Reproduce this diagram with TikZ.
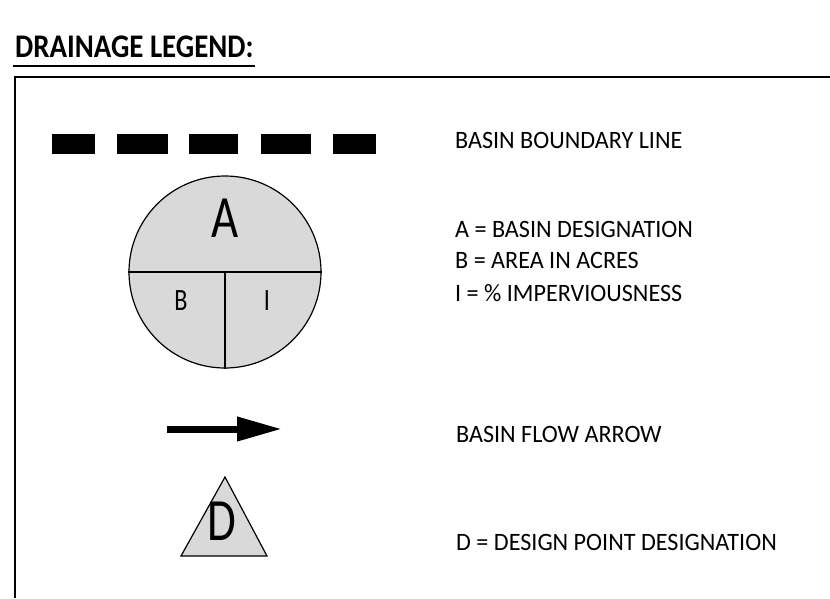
\documentclass[tikz,border=0pt]{standalone}
\usepackage{fontspec}
\setmainfont{Carlito}
\newfontfamily\bodyfont[FakeStretch=0.965]{Carlito}
\newfontfamily\titlefont[FakeStretch=0.875]{Carlito}
\newfontfamily\symbolfont[FakeStretch=0.78]{Carlito}
\usetikzlibrary{arrows.meta}
\definecolor{basingray}{HTML}{D9D9D9}
\begin{document}
\begin{tikzpicture}[x=1pt,y=-1pt,
  legendtext/.style={anchor=base west,inner sep=0pt,font=\bodyfont\fontsize{25}{30}\selectfont},
  dashbox/.style={fill=black},
  divider/.style={line width=2pt},
  biglabel/.style={inner sep=0pt,font=\symbolfont\fontsize{60}{62}\selectfont},
  smalllabel/.style={inner sep=0pt,font=\symbolfont\fontsize{31}{34}\selectfont}]
\useasboundingbox (0,0) rectangle (830,598);

% title with underline
\node[anchor=base west,inner sep=0pt,font=\titlefont\bfseries\fontsize{33}{40}\selectfont] (title) at (15,57) {DRAINAGE LEGEND:};
\draw[line width=2pt] (13,66) -- (255,66);

% frame
\draw[line width=2pt] (15,598) -- (15,77) -- (830,77);

% basin boundary line
\fill[dashbox] (52,134) rectangle (95,154);
\fill[dashbox] (117,134) rectangle (168,154);
\fill[dashbox] (189,134) rectangle (238,154);
\fill[dashbox] (261,134) rectangle (311,154);
\fill[dashbox] (333,134) rectangle (376,154);
\node[legendtext] (lbound) at (455,148) {BASIN BOUNDARY LINE};

% basin designation circle
\node[circle,draw,line width=1.2pt,fill=basingray,minimum size=192pt,inner sep=0pt] (basin) at (225,272) {};
\draw[divider] (basin.west) -- (basin.east);
\draw[divider] (basin.center) -- (basin.south);
\node[biglabel] (la) at (225,218) {A};
\node[smalllabel] (lb) at (181,301) {B};
\node[smalllabel] (li) at (267,301) {I};
\node[legendtext] (ta) at (455,237) {A = BASIN DESIGNATION};
\node[legendtext] (tb) at (455,268) {B = AREA IN ACRES};
\node[legendtext] (ti) at (455,301) {I = \% IMPERVIOUSNESS};

% basin flow arrow
\coordinate (ftail) at (167,429);
\coordinate (fhead) at (282,429);
\draw[line width=7pt,-{Triangle[length=45pt,width=23pt]}] (ftail) -- (fhead);
\node[legendtext] (tflow) at (456,442) {BASIN FLOW ARROW};

% design point triangle
\coordinate (dtop) at (225,477);
\coordinate (dleft) at (181,556);
\coordinate (dright) at (267,556);
\draw[line width=1.2pt,fill=basingray,line join=miter] (dtop) -- (dright) -- (dleft) -- cycle;
\node[biglabel] (ld) at (222,521) {D};
\node[legendtext] (td) at (456,550) {D = DESIGN POINT DESIGNATION};
\end{tikzpicture}
\end{document}
